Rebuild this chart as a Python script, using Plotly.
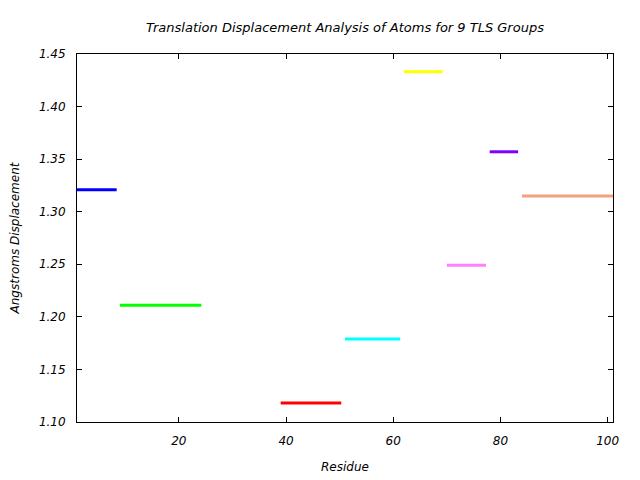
import plotly.graph_objects as go

groups = ["TLS 1", "TLS 2", "TLS 3", "TLS 4", "TLS 5", "TLS 6", "TLS 7", "TLS 8"]
res_start = [1, 9, 39, 51, 62, 70, 78, 84]
res_end = [8.4, 24.2, 50.3, 61.3, 69.2, 77.3, 83.3, 101]
displacement = [1.321, 1.211, 1.118, 1.179, 1.433, 1.249, 1.357, 1.315]
colors = ["#0000ff", "#00ff00", "#ff0000", "#00ffff", "#ffff00", "#ff80ff", "#7f00ff", "#f4a080"]

x_ticks = [20, 40, 60, 80, 100]
y_ticks = [1.10, 1.15, 1.20, 1.25, 1.30, 1.35, 1.40, 1.45]

font = dict(family="DejaVu Sans", size=12, color="black")
title_font = dict(family="DejaVu Sans", size=13, color="black")

# page body has an 8px margin; compensate so the plot area lands where the reference has it
OX, OY = 7, 8

fig = go.Figure()
for g, s, e, v, c in zip(groups, res_start, res_end, displacement, colors):
    fig.add_trace(go.Scatter(x=[s, e], y=[v, v], mode="lines", name=g,
                             line=dict(color=c, width=3), showlegend=False))

axis_common = dict(showgrid=False, zeroline=False, showline=True, linecolor="black",
                   linewidth=1, mirror="ticks", ticks="inside", ticklen=5,
                   tickcolor="black", tickfont=font, ticklabelstandoff=8)

fig.update_xaxes(range=[1, 101], tickvals=x_ticks, ticktext=[f"<i>{t}</i>" for t in x_ticks],
                 title=dict(text="<i>Residue</i>", font=font, standoff=15), **axis_common)
fig.update_yaxes(range=[1.10, 1.45], tickvals=y_ticks, ticktext=[f"<i>{t:.2f}</i>" for t in y_ticks],
                 title=dict(text="<i>Angstroms Displacement</i>", font=font, standoff=18), **axis_common)

fig.update_layout(
    width=640, height=480,
    margin=dict(l=76 - OX, r=28 + OX, t=54 - OY, b=58 + OY, autoexpand=False),
    paper_bgcolor="white", plot_bgcolor="white",
    title=dict(text="<i>Translation Displacement Analysis of Atoms for 9 TLS Groups</i>",
               font=title_font, x=((76 + 612) / 2 - OX) / 640, xanchor="center",
               y=1 - (27 - OY) / 480, yanchor="middle"),
    font=font,
)

fig.write_html("out.html")
